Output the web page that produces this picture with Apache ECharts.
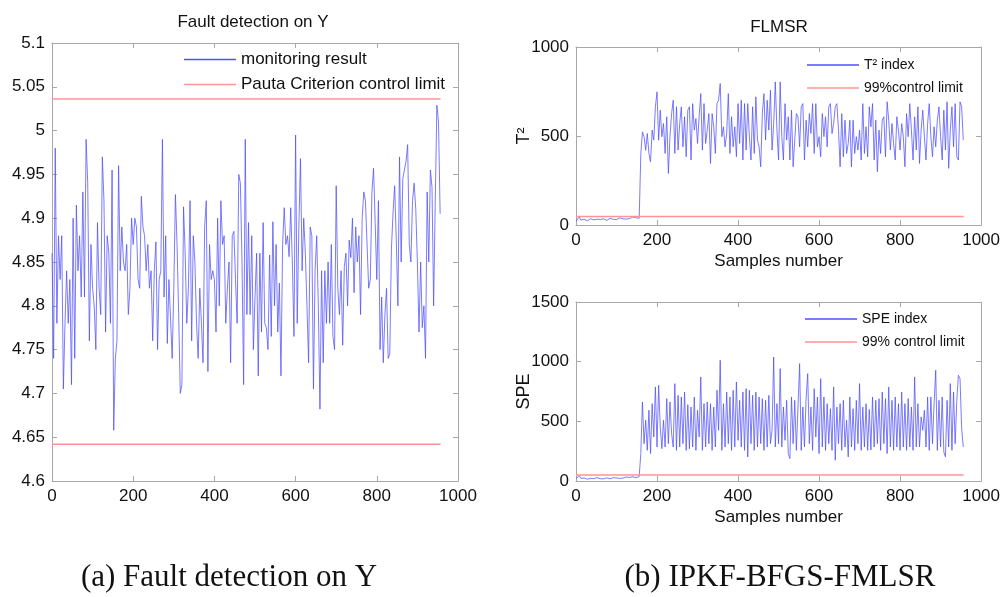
<!DOCTYPE html>
<html>
<head>
<meta charset="utf-8">
<script src="https://cdn.jsdelivr.net/npm/echarts@6/dist/echarts.min.js"></script>
<style>
html,body{margin:0;padding:0;background:#fff;}
#chart{width:1003px;height:597px;}
</style>
</head>
<body>
<div id="chart"></div>
<script>
// ---- data ----
const sampleStep = 4;
const faultY = [
4.86,4.74,4.98,4.78,4.88,4.83,4.88,4.705,4.78,4.84,4.78,4.83,4.71,4.90,4.74,4.915,4.84,4.88,4.81,4.93,
4.81,4.99,4.94,4.76,4.87,4.82,4.80,4.75,4.895,4.82,4.79,4.97,4.92,4.77,4.88,4.86,4.78,4.955,4.658,4.74,
4.76,4.96,4.84,4.89,4.85,4.84,4.87,4.79,4.82,4.90,4.87,4.90,4.89,4.83,4.82,4.925,4.89,4.88,4.84,4.87,
4.82,4.84,4.76,4.84,
4.873,4.75,4.83,4.84,4.99,4.81,4.88,4.757,4.83,4.83,4.74,4.82,4.927,4.87,4.79,4.70,4.71,4.913,4.86,4.78,
4.82,4.92,4.76,4.88,4.85,4.78,4.74,4.82,4.78,4.735,4.89,4.92,4.725,4.87,4.83,4.84,4.83,4.77,4.90,4.80,
4.92,4.87,4.88,4.78,4.82,4.85,4.735,4.88,4.885,4.83,4.78,4.95,4.94,4.85,4.71,4.99,4.79,4.895,4.79,4.88,
4.75,4.81,4.86,
4.72,4.86,4.77,4.895,4.78,4.775,4.75,4.858,4.765,4.896,4.80,4.87,4.77,4.826,4.72,4.87,4.912,4.87,4.88,4.856,
4.912,4.85,4.765,4.995,4.78,4.89,4.968,4.84,4.90,4.86,4.80,4.735,4.89,4.88,4.705,4.84,4.88,4.80,4.682,4.84,
4.735,4.84,4.78,4.85,4.78,4.87,4.765,4.75,4.937,4.82,4.79,4.84,4.755,4.845,4.86,4.80,4.875,4.855,4.90,4.815,
4.89,4.85,
4.88,4.79,4.90,4.93,4.92,4.87,4.82,4.83,4.93,4.957,4.895,4.83,4.92,4.75,4.81,4.735,4.79,4.82,4.74,4.745,
4.865,4.906,4.937,4.875,4.80,4.97,4.85,4.945,4.955,4.965,4.984,4.87,4.85,4.92,4.94,4.91,4.85,4.77,4.85,4.775,
4.80,4.74,4.93,4.85,4.955,4.935,4.80,4.92,5.029,5.01,4.905
];
const faultLimits = [5.036, 4.642];
const t2Index = [
22,30,45,28,25,32,27,24,30,35,26,29,38,33,27,31,28,35,30,26,
33,37,29,32,36,30,34,40,31,35,38,33,42,36,39,44,37,41,35,38,
400,523,496,420,514,402,355,533,477,664,
748,477,645,496,570,402,608,290,496,626,
701,402,664,421,570,664,439,608,383,645,
664,365,682,533,598,458,608,738,421,682,
458,533,626,346,626,552,402,682,701,795,
496,552,439,514,738,402,608,439,552,383,
682,458,701,365,682,421,682,496,365,664,
402,720,477,439,327,626,738,477,701,533,
757,421,570,804,533,365,804,496,365,682,
477,608,365,645,327,477,626,608,439,664,
682,365,589,439,626,514,682,402,682,439,
496,383,626,496,608,439,664,682,514,570,
664,682,533,327,626,383,589,402,458,589,
327,589,402,496,421,533,365,682,402,552,
383,664,552,682,365,589,299,533,402,589,
608,383,692,589,421,570,458,365,608,533,
421,570,496,327,626,496,682,533,365,608,
421,664,346,533,645,496,365,570,682,496,
383,552,439,589,664,496,365,645,421,692,
318,533,664,439,682,383,365,692,664,477
];
const t2Limit = 48;
const speIndex = [
20,35,45,22,18,25,20,15,18,22,25,20,17,28,22,19,24,18,20,26,
22,18,24,28,20,25,30,22,27,24,29,33,26,30,28,35,32,27,34,38,
230,662,313,509,257,593,230,648,369,788,285,802,453,271,509,285,690,313,662,397,
285,816,257,718,285,704,313,746,257,640,270,620,285,704,257,593,369,872,257,648,
285,662,313,648,257,620,285,760,425,1012,257,648,285,746,313,704,257,760,285,830,
341,676,285,746,257,774,202,760,313,718,257,746,285,704,313,690,257,676,285,718,
313,425,1039,285,648,313,942,285,620,341,676,230,188,704,313,676,257,620,984,257,
620,285,690,900,313,620,257,774,369,704,230,858,285,704,257,648,313,606,257,788,
174,620,313,648,257,676,285,509,202,704,285,606,257,676,313,816,257,620,285,648,
257,600,260,704,285,676,313,690,257,746,313,690,230,788,285,676,257,704,285,648,
257,746,285,648,257,690,285,620,257,872,285,648,285,537,425,593,285,704,257,704,
313,648,928,257,676,285,704,243,202,676,285,816,257,746,313,676,886,858,439,285
];
const speLimit = 50;
const limitEnd = 957;

// ---- build ----
const toPairs = arr => arr.map((v, i) => [i * sampleStep, v]);
const limitLine = v => [[0, v], [limitEnd, v]];

const axisColor = '#a8a8a8';
const blue = '#4f4fff';
const red = '#ff9494';
const sans = '"Liberation Sans", Arial, sans-serif';
const plain = v => String(v);

function xAxes(gridIndex, withName) {
  return [
    {
      type: 'value', gridIndex, position: 'bottom', min: 0, max: 1000, interval: 200,
      axisLine: {show: true, onZero: false, lineStyle: {color: axisColor}},
      axisTick: {inside: true, length: 5, lineStyle: {color: axisColor}},
      axisLabel: {color: '#111', fontSize: 17, fontFamily: sans, margin: 7, formatter: plain},
      splitLine: {show: false},
      name: withName ? 'Samples number' : '', nameLocation: 'middle', nameGap: 28,
      nameTextStyle: {color: '#111', fontSize: 17, fontFamily: sans}
    },
    {
      type: 'value', gridIndex, position: 'top', min: 0, max: 1000, interval: 200,
      axisLine: {show: true, onZero: false, lineStyle: {color: axisColor}},
      axisTick: {inside: true, length: 5, lineStyle: {color: axisColor}},
      axisLabel: {show: false}, splitLine: {show: false}
    }
  ];
}
function yAxes(gridIndex, min, max, interval, name) {
  return [
    {
      type: 'value', gridIndex, position: 'left', min, max, interval,
      axisLine: {show: true, onZero: false, lineStyle: {color: axisColor}},
      axisTick: {inside: true, length: 5, lineStyle: {color: axisColor}},
      axisLabel: {color: '#111', fontSize: 17, fontFamily: sans, margin: 7, formatter: plain},
      splitLine: {show: false},
      name: name || '', nameLocation: 'middle', nameGap: 43, nameRotate: 90, nameMoveOverlap: false,
      nameTextStyle: {color: '#111', fontSize: 18, fontFamily: sans}
    },
    {
      type: 'value', gridIndex, position: 'right', min, max, interval,
      axisLine: {show: true, onZero: false, lineStyle: {color: axisColor}},
      axisTick: {inside: true, length: 5, lineStyle: {color: axisColor}},
      axisLabel: {show: false}, splitLine: {show: false}
    }
  ];
}

const blueLine = {color: blue, width: 1, opacity: 0.75};
const redLine = {color: red, width: 1.6};

function legend(data, left, top, fontSize, gap) {
  return {
    data, left, top, orient: 'vertical', padding: 0,
    icon: 'rect', itemWidth: 52, itemHeight: 1.5, itemGap: gap,
    textStyle: {color: '#111', fontSize, lineHeight: fontSize, fontFamily: sans},
    borderWidth: 0, selectedMode: false
  };
}

const option = {
  animation: false,
  backgroundColor: '#fff',
  grid: [
    {left: 52, top: 43, width: 406, height: 438},
    {left: 576, top: 47, width: 406, height: 178},
    {left: 576, top: 302, width: 406, height: 179}
  ],
  xAxis: [...xAxes(0, false), ...xAxes(1, true), ...xAxes(2, true)],
  yAxis: [
    ...yAxes(0, 4.6, 5.1, 0.05, ''),
    ...yAxes(1, 0, 1000, 500, 'T²'),
    ...yAxes(2, 0, 1500, 500, 'SPE')
  ],
  legend: [
    legend(['monitoring result', 'Pauta Criterion control limit'], 184, 51, 17, 8),
    legend(['T² index', '99%control limit'], 807, 58, 14, 9),
    legend(['SPE index', '99% control limit'], 805, 312, 14, 9)
  ],
  graphic: [
    {type: 'text', x: 253, y: 22, style: {text: 'Fault detection on Y', textAlign: 'center', textVerticalAlign: 'middle', font: '17px ' + sans, fill: '#111'}},
    {type: 'text', x: 779, y: 27, style: {text: 'FLMSR', textAlign: 'center', textVerticalAlign: 'middle', font: '17px ' + sans, fill: '#111'}},
    {type: 'text', x: 229, y: 578, style: {text: '(a) Fault detection on Y', textAlign: 'center', textVerticalAlign: 'middle', font: '31px "Liberation Serif", "Times New Roman", serif', fill: '#111'}},
    {type: 'text', x: 780, y: 578, style: {text: '(b) IPKF-BFGS-FMLSR', textAlign: 'center', textVerticalAlign: 'middle', font: '31px "Liberation Serif", "Times New Roman", serif', fill: '#111'}}
  ],
  series: [
    {name: 'monitoring result', type: 'line', xAxisIndex: 0, yAxisIndex: 0, symbol: 'none', lineStyle: blueLine, itemStyle: {color: blue}, data: toPairs(faultY), z: 2},
    {name: 'Pauta Criterion control limit', type: 'line', xAxisIndex: 0, yAxisIndex: 0, symbol: 'none', lineStyle: redLine, itemStyle: {color: red}, data: limitLine(faultLimits[0]), z: 3},
    {name: 'Pauta Criterion control limit', type: 'line', xAxisIndex: 0, yAxisIndex: 0, symbol: 'none', lineStyle: redLine, itemStyle: {color: red}, data: limitLine(faultLimits[1]), z: 3},
    {name: 'T² index', type: 'line', xAxisIndex: 2, yAxisIndex: 2, symbol: 'none', lineStyle: blueLine, itemStyle: {color: blue}, data: toPairs(t2Index), z: 2},
    {name: '99%control limit', type: 'line', xAxisIndex: 2, yAxisIndex: 2, symbol: 'none', lineStyle: redLine, itemStyle: {color: red}, data: limitLine(t2Limit), z: 3},
    {name: 'SPE index', type: 'line', xAxisIndex: 4, yAxisIndex: 4, symbol: 'none', lineStyle: blueLine, itemStyle: {color: blue}, data: toPairs(speIndex), z: 2},
    {name: '99% control limit', type: 'line', xAxisIndex: 4, yAxisIndex: 4, symbol: 'none', lineStyle: redLine, itemStyle: {color: red}, data: limitLine(speLimit), z: 3}
  ]
};

const chart = echarts.init(document.getElementById('chart'), null, {renderer: 'canvas'});
chart.setOption(option);
</script>
</body>
</html>
